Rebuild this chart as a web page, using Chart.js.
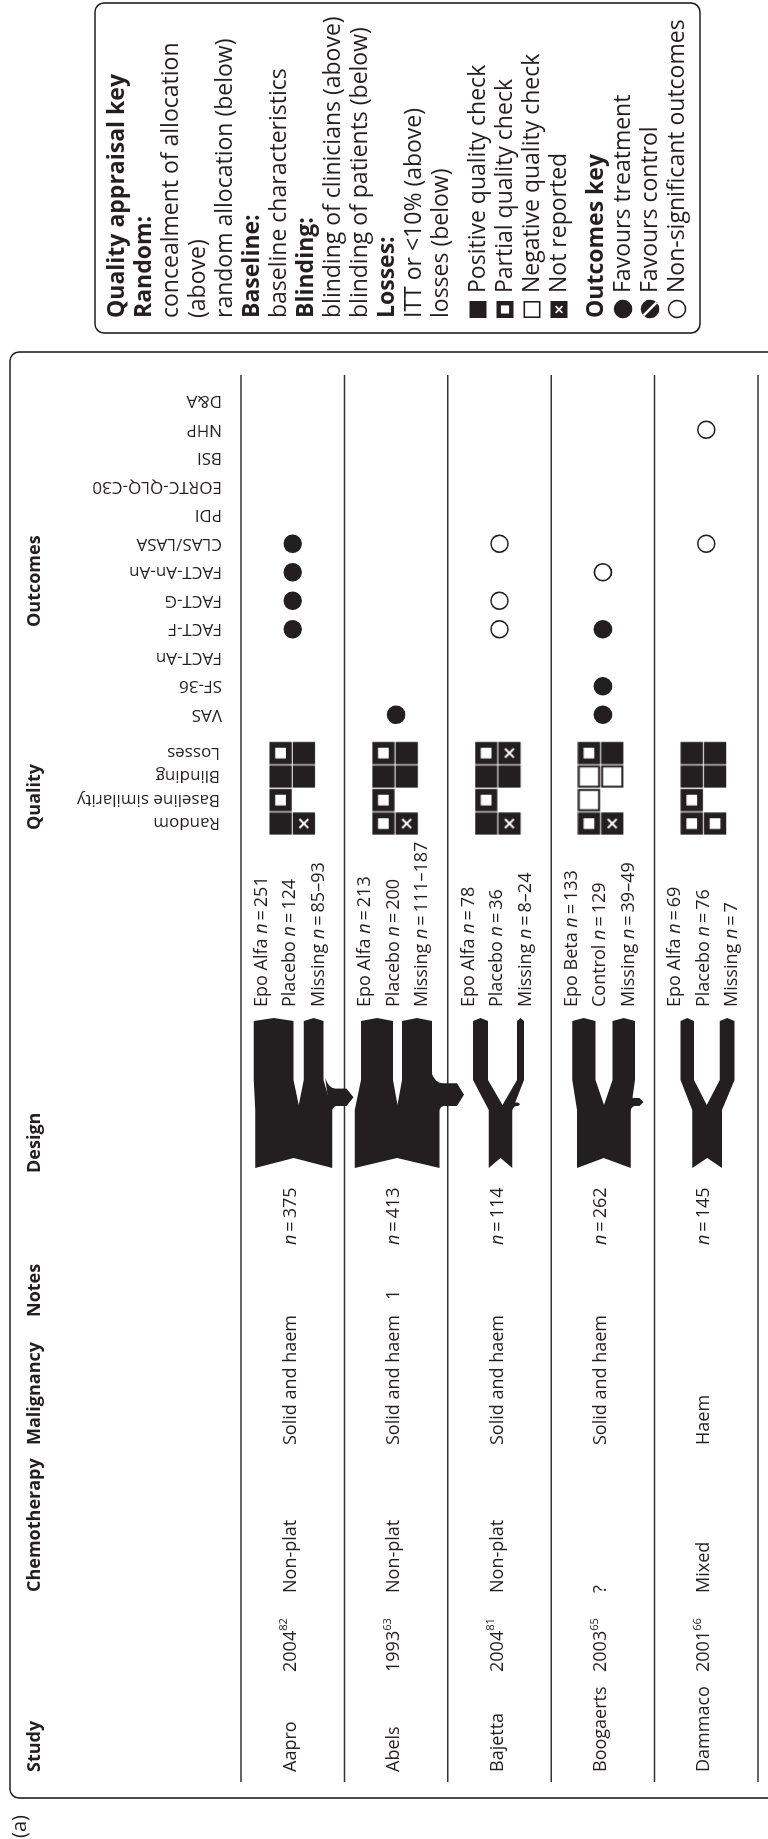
<!DOCTYPE html>
<html>
<head>
<meta charset="utf-8">
<script src="https://cdn.jsdelivr.net/npm/chart.js@4/dist/chart.umd.min.js"></script>
<style>
  html, body { margin: 0; padding: 0; background: #fff; }
  #page { position: relative; width: 768px; height: 1839px; overflow: hidden; }
  /* the figure is laid out landscape and turned a quarter to fit the page */
  #sheet { position: absolute; left: 0; top: 0; width: 1839px; height: 768px;
           transform-origin: 0 0; transform: translate(0, 1839px) rotate(-90deg); }
  #sheet canvas { position: absolute; left: 0; top: 0; width: 1839px; height: 768px; }
</style>
</head>
<body>
<div id="page"><div id="sheet">
  <canvas id="table" width="1839" height="768"></canvas>
  <canvas id="quality" width="1839" height="768"></canvas>
</div></div>
<script>
const INK = '#231f20';
const FONT = '"Open Sans", "DejaVu Sans", sans-serif';
const SIZE = 18;

// one row per trial
const studies = ['Aapro', 'Abels', 'Bajetta', 'Boogaerts', 'Dammaco'];
const years = ['2004', '1993', '2004', '2003', '2001'];
const refs = ['82', '63', '81', '65', '66'];
const chemotherapy = ['Non-plat', 'Non-plat', 'Non-plat', '?', 'Mixed'];
const malignancy = ['Solid and haem', 'Solid and haem', 'Solid and haem', 'Solid and haem', 'Haem'];
const notes = ['', '1', '', '', ''];
const totals = [375, 413, 114, 262, 145];
const treatmentArm = ['Epo Alfa', 'Epo Alfa', 'Epo Alfa', 'Epo Beta', 'Epo Alfa'];
const treatmentN = [251, 213, 78, 133, 69];
const controlArm = ['Placebo', 'Placebo', 'Placebo', 'Control', 'Placebo'];
const controlN = [124, 200, 36, 129, 76];
const missingLow = [85, 111, 8, 39, 7];
const missingHigh = [93, 187, 24, 49, null];

// quality checks per trial, [above, below] for each item
// P positive, H partial, N negative, X not reported
const qualityItems = ['Random', 'Baseline similarity', 'Blinding', 'Losses'];
const qualityChecks = [
  [['P', 'X'], ['H', null], ['P', 'P'], ['H', 'P']],
  [['H', 'X'], ['H', null], ['P', 'P'], ['H', 'P']],
  [['P', 'X'], ['H', null], ['P', 'P'], ['H', 'X']],
  [['H', 'X'], ['N', null], ['N', 'N'], ['H', 'P']],
  [['H', 'H'], ['H', null], ['P', 'P'], ['P', 'P']]
];

// T favours treatment, C favours control, NS non-significant
const outcomeMeasures = ['VAS', 'SF-36', 'FACT-An', 'FACT-F', 'FACT-G', 'FACT-An-An',
  'CLAS/LASA', 'PDI', 'EORTC-QLQ-C30', 'BSI', 'NHP', 'D&A'];
const outcomeResults = [
  ['Aapro', 'FACT-F', 'T'], ['Aapro', 'FACT-G', 'T'], ['Aapro', 'FACT-An-An', 'T'], ['Aapro', 'CLAS/LASA', 'T'],
  ['Abels', 'VAS', 'T'],
  ['Bajetta', 'FACT-F', 'NS'], ['Bajetta', 'FACT-G', 'NS'], ['Bajetta', 'CLAS/LASA', 'NS'],
  ['Boogaerts', 'VAS', 'T'], ['Boogaerts', 'SF-36', 'T'], ['Boogaerts', 'FACT-F', 'T'], ['Boogaerts', 'FACT-An-An', 'NS'],
  ['Dammaco', 'CLAS/LASA', 'NS'], ['Dammaco', 'NHP', 'NS']
];

const keyLines = [
  ['b', 'Quality appraisal key'], ['b', 'Random:'], ['', 'concealment of allocation'], ['', '(above)'],
  ['', 'random allocation (below)'], ['b', 'Baseline:'], ['', 'baseline characteristics'],
  ['b', 'Blinding:'], ['', 'blinding of clinicians (above)'], ['', 'blinding of patients (below)'],
  ['b', 'Losses:'], ['', 'ITT or <10% (above)'], ['', 'losses (below)'], null,
  ['P', 'Positive quality check'], ['H', 'Partial quality check'], ['N', 'Negative quality check'],
  ['X', 'Not reported'], null,
  ['b', 'Outcomes key'], ['T', 'Favours treatment'], ['C', 'Favours control'], ['NS', 'Non-significant outcomes']
];

// column x positions on the landscape sheet
const COL = { study: 67, year: 167, chemo: 246, malig: 394, notes: 539, n: 594, arms: 832 };
const HEAD = [['Study', 67], ['Chemotherapy', 247], ['Malignancy', 394], ['Notes', 522],
  ['Design', 666], ['Quality', 1009], ['Outcomes', 1212]];
const FLOW = { base: 671, split: 729, fork: 759, end: 818, tip: 3, notch: 10, spread: 20, perPatient: 0.205 };
const KEY = { left: 1506, right: 1836, bottom: 700, x: 1521, pitch: 27, gap: 10, size: 23 };

function font(style, size) {
  return (style === 'i' ? 'italic ' : style === 'b' ? 'bold ' : '') + size + 'px ' + FONT;
}

// draws runs of text with italic / bold / superscript parts
function rich(ctx, x, y, parts, size) {
  let cx = x;
  for (const [text, style] of parts) {
    const sup = style === 'sup';
    ctx.font = font(style, sup ? size * 0.62 : size);
    ctx.fillText(text, cx, sup ? y - size * 0.36 : y);
    cx += ctx.measureText(text).width;
  }
  return cx;
}

function checkCell(ctx, x, y, s, code) {
  if (!code) return;
  if (code === 'N') {
    ctx.fillStyle = '#fff';
    ctx.fillRect(x, y, s, s);
    ctx.strokeStyle = INK;
    ctx.lineWidth = Math.max(1.6, s * 0.09);
    const h = ctx.lineWidth / 2;
    ctx.strokeRect(x + h, y + h, s - 2 * h, s - 2 * h);
    return;
  }
  ctx.fillStyle = INK;
  ctx.fillRect(x, y, s, s);
  if (code === 'H') {
    const q = s * 0.48;
    ctx.fillStyle = '#fff';
    ctx.fillRect(x + (s - q) / 2, y + (s - q) / 2, q, q);
  } else if (code === 'X') {
    const m = s * 0.3;
    ctx.strokeStyle = '#fff';
    ctx.lineWidth = Math.max(1.4, s * 0.09);
    ctx.beginPath();
    ctx.moveTo(x + m, y + m); ctx.lineTo(x + s - m, y + s - m);
    ctx.moveTo(x + s - m, y + m); ctx.lineTo(x + m, y + s - m);
    ctx.stroke();
  }
}

// a pair of cells (above / below) used as the point image
const cellCache = {};
function checkImage(pair) {
  const key = pair.join('|');
  if (cellCache[key]) return cellCache[key];
  const s = 23.3;
  const c = document.createElement('canvas');
  c.width = 24; c.height = 47;
  const g = c.getContext('2d');
  checkCell(g, 0.5, 0.5, s - 1, pair[0]);
  checkCell(g, 0.5, s + 0.5, s - 1, pair[1]);
  return (cellCache[key] = c);
}

function outcomeMark(ctx, x, y, r, kind) {
  ctx.beginPath();
  ctx.arc(x, y, r, 0, Math.PI * 2);
  ctx.fillStyle = kind === 'NS' ? '#fff' : INK;
  ctx.fill();
  ctx.lineWidth = 1.6;
  ctx.strokeStyle = INK;
  ctx.stroke();
  if (kind === 'C') {
    ctx.strokeStyle = '#fff';
    ctx.lineWidth = 2.4;
    ctx.beginPath();
    ctx.moveTo(x - r * 0.75, y - r * 0.75);
    ctx.lineTo(x + r * 0.75, y + r * 0.75);
    ctx.stroke();
  }
}

// flow of patients: trunk sized by total, arms by analysed patients, side branch for missing
function drawFlow(ctx, yc, i) {
  const k = FLOW.perPatient;
  const wT = totals[i] * k;
  const keep = (totals[i] - missingLow[i]) / totals[i];
  const wE = treatmentN[i] * k * keep, wC = controlN[i] * k * keep;
  const cE = yc - FLOW.spread, cC = yc + FLOW.spread;
  const t0 = yc - wT / 2, t1 = yc + wT / 2;
  const crotch = ((cE + wE / 2) + (cC - wC / 2)) / 2;
  ctx.fillStyle = INK;
  ctx.beginPath();
  ctx.moveTo(FLOW.base, t0);
  ctx.lineTo(FLOW.base + FLOW.notch, yc);
  ctx.lineTo(FLOW.base, t1);
  ctx.lineTo(FLOW.split, t1);
  ctx.lineTo(FLOW.fork, cC + wC / 2);
  ctx.lineTo(FLOW.end, cC + wC / 2);
  ctx.lineTo(FLOW.end + FLOW.tip, cC);
  ctx.lineTo(FLOW.end, cC - wC / 2);
  ctx.lineTo(FLOW.fork, cC - wC / 2);
  ctx.lineTo(FLOW.split + 5, crotch);
  ctx.lineTo(FLOW.fork, cE + wE / 2);
  ctx.lineTo(FLOW.end, cE + wE / 2);
  ctx.lineTo(FLOW.end + FLOW.tip, cE);
  ctx.lineTo(FLOW.end, cE - wE / 2);
  ctx.lineTo(FLOW.fork, cE - wE / 2);
  ctx.lineTo(FLOW.split, t0);
  ctx.closePath();
  ctx.fill();

  const wM = missingLow[i] * k;
  if (wM >= 1.5) {
    const w = Math.max(wM, 3.5);
    const xb = 733;
    const reach = t1 + w * 0.6 + 4;
    const head = Math.min(w / 2, 7);
    ctx.beginPath();
    ctx.moveTo(xb - 10, t1 - 2);
    ctx.quadraticCurveTo(xb, t1, xb, t1 + 4);
    ctx.lineTo(xb, reach);
    ctx.lineTo(xb + w / 2, reach + head);
    ctx.lineTo(xb + w, reach);
    ctx.lineTo(xb + w, t1 + 3);
    ctx.quadraticCurveTo(xb + w, t1 - w * 0.2, xb + w * 1.6, t1 - w * 0.4);
    ctx.closePath();
    ctx.fill();
  }
}

const tablePlugin = {
  id: 'studyTable',
  beforeDatasetsDraw(chart) {
    const ctx = chart.ctx;
    const xs = chart.scales.x, ys = chart.scales.y;
    const area = chart.chartArea;
    const step = (area.bottom - area.top) / studies.length;
    ctx.save();
    ctx.fillStyle = '#fff';
    ctx.fillRect(0, 0, chart.width, chart.height);

    ctx.strokeStyle = INK;
    ctx.lineWidth = 1.6;
    ctx.beginPath();
    ctx.roundRect(41, 10, 1446, 820, 9);
    ctx.stroke();

    ctx.fillStyle = INK;
    ctx.textBaseline = 'middle';
    ctx.textAlign = 'left';
    ctx.font = font('', 20);
    ctx.fillText('(a)', 1, 20);

    ctx.font = font('b', SIZE);
    HEAD.forEach(([t, x]) => ctx.fillText(t, x, 35));

    // outcome measure names stand upright above their columns
    ctx.font = font('', SIZE - 1);
    outcomeMeasures.forEach((m, i) => {
      ctx.save();
      ctx.translate(xs.getPixelForValue(i), area.top - 19);
      ctx.rotate(-Math.PI / 2);
      ctx.fillText(m, 0, 0);
      ctx.restore();
    });

    // row rules
    ctx.strokeStyle = '#333';
    ctx.lineWidth = 1.5;
    for (let r = 0; r <= studies.length; r++) {
      const y = area.top + r * step;
      ctx.beginPath();
      ctx.moveTo(57, y);
      ctx.lineTo(1464, y);
      ctx.stroke();
    }

    studies.forEach((s, i) => {
      const yc = ys.getPixelForValue(i);
      const ty = yc - 2;
      ctx.fillStyle = INK;
      rich(ctx, COL.study, ty, [[s, '']], SIZE);
      rich(ctx, COL.year, ty, [[years[i], ''], [refs[i], 'sup']], SIZE);
      rich(ctx, COL.chemo, ty, [[chemotherapy[i], '']], SIZE);
      rich(ctx, COL.malig, ty, [[malignancy[i], '']], SIZE);
      rich(ctx, COL.notes, ty, [[notes[i], '']], SIZE);
      rich(ctx, COL.n, ty, [['n', 'i'], ['\u2009=\u2009' + totals[i], '']], SIZE);

      drawFlow(ctx, yc + 1, i);

      ctx.fillStyle = INK;
      const miss = missingHigh[i] == null ? String(missingLow[i]) : missingLow[i] + '\u2013' + missingHigh[i];
      rich(ctx, COL.arms, yc - 31, [[treatmentArm[i] + ' ', ''], ['n', 'i'], ['\u2009=\u2009' + treatmentN[i], '']], SIZE);
      rich(ctx, COL.arms, yc - 2.5, [[controlArm[i] + ' ', ''], ['n', 'i'], ['\u2009=\u2009' + controlN[i], '']], SIZE);
      rich(ctx, COL.arms, yc + 26, [['Missing ', ''], ['n', 'i'], ['\u2009=\u2009' + miss, '']], SIZE);
    });

    // key box
    const ys2 = [];
    let y = 0;
    keyLines.forEach((line) => {
      if (!line) { y += KEY.gap; ys2.push(null); return; }
      ys2.push(y);
      y += KEY.pitch;
    });
    const shift = KEY.bottom - 23 - (y - KEY.pitch);
    ctx.strokeStyle = INK;
    ctx.lineWidth = 1.6;
    ctx.beginPath();
    ctx.roundRect(KEY.left, shift - 22, KEY.right - KEY.left, KEY.bottom - shift + 22, 9);
    ctx.stroke();
    keyLines.forEach((line, i) => {
      if (!line) return;
      const [kind, text] = line;
      const ly = ys2[i] + shift;
      ctx.fillStyle = INK;
      if (kind === 'b' || kind === '') {
        ctx.font = font(kind, KEY.size);
        ctx.fillText(text, KEY.x, ly);
        return;
      }
      if (kind === 'T' || kind === 'C' || kind === 'NS') {
        outcomeMark(ctx, KEY.x + 9, ly, 8.5, kind);
      } else {
        checkCell(ctx, KEY.x, ly - 8.5, 17, kind);
      }
      ctx.fillStyle = INK;
      ctx.font = font('', KEY.size);
      ctx.fillText(text, KEY.x + 25, ly);
    });
    ctx.restore();
  }
};

new Chart(document.getElementById('table'), {
  type: 'scatter',
  data: {
    datasets: [{
      data: outcomeResults.map(([s, m, res]) => ({ x: m, y: s, result: res })),
      pointRadius: 8.5,
      pointBorderWidth: 1.6,
      pointBorderColor: INK,
      pointBackgroundColor: (c) => (c.raw && c.raw.result === 'NS' ? '#fff' : INK)
    }]
  },
  options: {
    responsive: false,
    animation: false,
    devicePixelRatio: 1,
    layout: { padding: { left: 1110, right: 387, top: 241, bottom: 6 } },
    scales: {
      x: { type: 'category', labels: outcomeMeasures, offset: true, display: false },
      y: { type: 'category', labels: studies, offset: true, display: false }
    },
    plugins: { legend: { display: false }, tooltip: { enabled: false } }
  },
  plugins: [tablePlugin]
});

const qualityLabels = {
  id: 'qualityLabels',
  afterDraw(chart) {
    const ctx = chart.ctx;
    const xs = chart.scales.x;
    ctx.save();
    ctx.fillStyle = INK;
    ctx.textBaseline = 'middle';
    ctx.font = font('', SIZE - 1);
    qualityItems.forEach((q, i) => {
      ctx.save();
      ctx.translate(xs.getPixelForValue(i), chart.chartArea.top - 21);
      ctx.rotate(-Math.PI / 2);
      ctx.fillText(q, 0, 0);
      ctx.restore();
    });
    ctx.restore();
  }
};

const qualityPoints = [];
studies.forEach((s, i) => qualityItems.forEach((q, j) => {
  qualityPoints.push({ x: q, y: s, checks: qualityChecks[i][j] });
}));

new Chart(document.getElementById('quality'), {
  type: 'scatter',
  data: {
    datasets: [{
      data: qualityPoints,
      pointRadius: 12,
      pointStyle: (c) => checkImage(c.raw ? c.raw.checks : [null, null])
    }]
  },
  options: {
    responsive: false,
    animation: false,
    devicePixelRatio: 1,
    layout: { padding: { left: 1004, right: 741, top: 241, bottom: 6 } },
    scales: {
      x: { type: 'category', labels: qualityItems, offset: true, display: false },
      y: { type: 'category', labels: studies, offset: true, display: false }
    },
    plugins: { legend: { display: false }, tooltip: { enabled: false } }
  },
  plugins: [qualityLabels]
});
</script>
</body>
</html>
